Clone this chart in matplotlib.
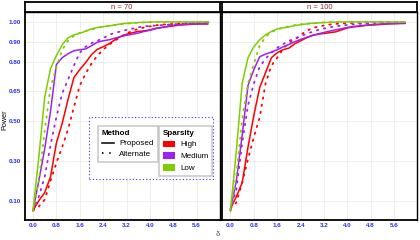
"""
Power curves, two sample sizes
"""

import numpy as np
import matplotlib
matplotlib.use("Agg")
import matplotlib.pyplot as plt
from matplotlib.lines import Line2D
from matplotlib.patches import Patch, Rectangle

plt.rcParams['font.family'] = ['Liberation Sans', 'DejaVu Sans']

delta = np.round(np.arange(0, 6.01, 0.2), 1)

# n = 70
high_prop_70 = [0.05, 0.10, 0.14, 0.22, 0.39, 0.49, 0.61, 0.72, 0.76, 0.795, 0.835, 0.862, 0.875, 0.89, 0.91, 0.927,
                0.938, 0.946, 0.952, 0.955, 0.96, 0.968, 0.972, 0.976, 0.98, 0.984, 0.986, 0.988, 0.989, 0.99, 0.99]
high_alt_70 = [0.05, 0.07, 0.105, 0.20, 0.29, 0.37, 0.46, 0.57, 0.68, 0.74, 0.79, 0.83, 0.86, 0.885, 0.905, 0.925,
               0.942, 0.955, 0.965, 0.972, 0.978, 0.983, 0.986, 0.988, 0.99, 0.992, 0.994, 0.995, 0.996, 0.997, 0.998]
med_prop_70 = [0.05, 0.20, 0.36, 0.55, 0.785, 0.82, 0.84, 0.855, 0.86, 0.864, 0.88, 0.898, 0.905, 0.91, 0.918, 0.926,
               0.933, 0.938, 0.944, 0.952, 0.958, 0.966, 0.972, 0.978, 0.983, 0.986, 0.988, 0.989, 0.99, 0.99, 0.99]
med_alt_70 = [0.05, 0.12, 0.22, 0.38, 0.52, 0.64, 0.71, 0.78, 0.845, 0.875, 0.893, 0.905, 0.918, 0.935, 0.945, 0.952,
              0.96, 0.966, 0.973, 0.978, 0.98, 0.982, 0.984, 0.986, 0.988, 0.99, 0.992, 0.994, 0.995, 0.996, 0.997]
low_prop_70 = [0.05, 0.32, 0.62, 0.765, 0.83, 0.885, 0.92, 0.935, 0.943, 0.953, 0.965, 0.972, 0.976, 0.98, 0.985, 0.99,
               0.993, 0.995, 0.997, 0.998, 0.999, 1.0, 1.0, 1.0, 1.0, 1.0, 1.0, 1.0, 1.0, 1.0, 1.0]
low_alt_70 = [0.05, 0.20, 0.45, 0.67, 0.77, 0.86, 0.905, 0.93, 0.945, 0.955, 0.962, 0.97, 0.976, 0.98, 0.984, 0.988,
              0.991, 0.994, 0.996, 0.998, 0.999, 1.0, 1.0, 1.0, 1.0, 1.0, 1.0, 1.0, 1.0, 1.0, 1.0]

# n = 100
high_prop_100 = [0.06, 0.12, 0.19, 0.37, 0.53, 0.67, 0.745, 0.82, 0.845, 0.86, 0.868, 0.89, 0.905, 0.92, 0.932, 0.938,
                 0.942, 0.946, 0.95, 0.96, 0.97, 0.975, 0.978, 0.982, 0.984, 0.986, 0.988, 0.99, 0.991, 0.992, 0.993]
high_alt_100 = [0.06, 0.09, 0.19, 0.31, 0.42, 0.52, 0.69, 0.78, 0.82, 0.865, 0.895, 0.912, 0.935, 0.955, 0.968, 0.977,
                0.982, 0.987, 0.99, 0.992, 0.994, 0.995, 0.996, 0.997, 0.998, 0.999, 1.0, 1.0, 1.0, 1.0, 1.0]
med_prop_100 = [0.05, 0.20, 0.43, 0.68, 0.76, 0.825, 0.838, 0.848, 0.86, 0.874, 0.887, 0.90, 0.912, 0.922, 0.932, 0.94,
                0.947, 0.954, 0.96, 0.966, 0.972, 0.977, 0.98, 0.983, 0.986, 0.988, 0.99, 0.991, 0.992, 0.993, 0.993]
med_alt_100 = [0.05, 0.155, 0.39, 0.58, 0.69, 0.775, 0.815, 0.845, 0.87, 0.888, 0.905, 0.915, 0.928, 0.94, 0.95, 0.96,
               0.967, 0.973, 0.978, 0.982, 0.985, 0.988, 0.99, 0.992, 0.994, 0.995, 0.996, 0.997, 0.998, 0.998, 0.999]
low_prop_100 = [0.05, 0.35, 0.69, 0.82, 0.875, 0.91, 0.935, 0.952, 0.965, 0.97, 0.975, 0.982, 0.986, 0.99, 0.993, 0.995,
                0.997, 0.998, 0.999, 1.0, 1.0, 1.0, 1.0, 1.0, 1.0, 1.0, 1.0, 1.0, 1.0, 1.0, 1.0]
low_alt_100 = [0.05, 0.23, 0.51, 0.69, 0.79, 0.88, 0.925, 0.948, 0.962, 0.972, 0.978, 0.984, 0.988, 0.991, 0.994, 0.996,
               0.998, 0.999, 1.0, 1.0, 1.0, 1.0, 1.0, 1.0, 1.0, 1.0, 1.0, 1.0, 1.0, 1.0, 1.0]

panels = ["n = 70", "n = 100"]
sparsity = ["High", "Medium", "Low"]
methods = ["Proposed", "Alternate"]
colours = {"High": "#FF0000", "Medium": "#A020F0", "Low": "#7FCD00"}

curves = {
    "n = 70": {"High": (high_prop_70, high_alt_70), "Medium": (med_prop_70, med_alt_70), "Low": (low_prop_70, low_alt_70)},
    "n = 100": {"High": (high_prop_100, high_alt_100), "Medium": (med_prop_100, med_alt_100), "Low": (low_prop_100, low_alt_100)},
}

yticks = [0.10, 0.30, 0.50, 0.65, 0.80, 0.90, 1.00]
xticks = [0.0, 0.8, 1.6, 2.4, 3.2, 4.0, 4.8, 5.6]
tick_blue = "#2B2BF0"
dotted = (0, (0.8, 3.2))

fig = plt.figure(figsize=(4.2, 2.4), dpi=100)
fig.set_facecolor("white")

lefts = [24.5 / 420, 222 / 420]
width = 195 / 420
bottom = 20 / 240
height = 207.5 / 240

for i, name in enumerate(panels):
    ax = fig.add_axes([lefts[i], bottom, width, height])
    for s in sparsity:
        prop, alt = curves[name][s]
        ax.plot(delta, prop, color=colours[s], lw=1.1, solid_capstyle="butt")
        ax.plot(delta, alt, color=colours[s], lw=1.3, linestyle=dotted, dash_capstyle="round")
    ax.set_xlim(-0.29, 6.38)
    ax.set_ylim(0.0025, 1.0475)
    ax.set_xticks(xticks)
    ax.set_xticklabels(["%.1f" % t for t in xticks])
    ax.set_yticks(yticks)
    ax.set_yticklabels(["%.2f" % t for t in yticks])
    ax.grid(color="#EBEBEB", lw=0.6)
    ax.set_axisbelow(True)
    ax.tick_params(length=0, pad=2.5, labelsize=4.5, labelcolor=tick_blue)
    for lab in ax.get_xticklabels() + ax.get_yticklabels():
        lab.set_fontweight("bold")
    for sp in ax.spines.values():
        sp.set_color("black")
        sp.set_linewidth(1.0)
    ax.spines["left"].set_linewidth(1.3)
    ax.spines["bottom"].set_linewidth(1.3)
    if i == 1:
        ax.set_yticklabels([])

    # strip on top
    st = fig.add_axes([lefts[i], 228 / 240, width, 10.5 / 240])
    st.set_xticks([])
    st.set_yticks([])
    for sp in st.spines.values():
        sp.set_color("black")
        sp.set_linewidth(1.3)
    st.text(0.5, 0.45, name, ha="center", va="center", fontsize=5.5, color="#8B2A2A",
            transform=st.transAxes)

fig.text(5 / 420, 1 - 120 / 240, "Power", rotation=90, ha="center", va="center", fontsize=5.2)
fig.text(218 / 420, 1 - 234 / 240, "δ", ha="center", va="center", fontsize=5.5, color="#555555")

# legend area
fig.add_artist(Rectangle((89 / 420, 61 / 240), 124 / 420, 62 / 240, transform=fig.transFigure,
                         fill=True, facecolor="white", edgecolor="#3333EE", lw=0.8, linestyle=(0, (1, 2))))

method_handles = [Line2D([0], [0], color="black", lw=1.1),
                  Line2D([0], [0], color="black", lw=1.3, linestyle=dotted)]
leg1 = fig.legend(method_handles, methods, title="Method", loc="upper left",
                  bbox_to_anchor=(93.5 / 420, 1 - 121.5 / 240), fontsize=5.8, title_fontsize=5.8,
                  frameon=True, fancybox=False, edgecolor="#BEBEBE", handlelength=1.6, handletextpad=0.6,
                  labelspacing=0.4, borderpad=0.5, alignment="left")
leg1.get_frame().set_linewidth(1.2)
leg1.get_title().set_fontweight("bold")

sparsity_handles = [Patch(facecolor=colours[s], edgecolor="none") for s in sparsity]
leg2 = fig.legend(sparsity_handles, sparsity, title="Sparsity", loc="upper left",
                  bbox_to_anchor=(155 / 420, 1 - 121.5 / 240), fontsize=5.8, title_fontsize=5.8,
                  frameon=True, fancybox=False, edgecolor="#BEBEBE", handlelength=1.5, handleheight=0.8,
                  handletextpad=0.6, labelspacing=0.5, borderpad=0.5, alignment="left")
leg2.get_frame().set_linewidth(1.2)
leg2.get_title().set_fontweight("bold")

fig.savefig("out.png", dpi=100)
